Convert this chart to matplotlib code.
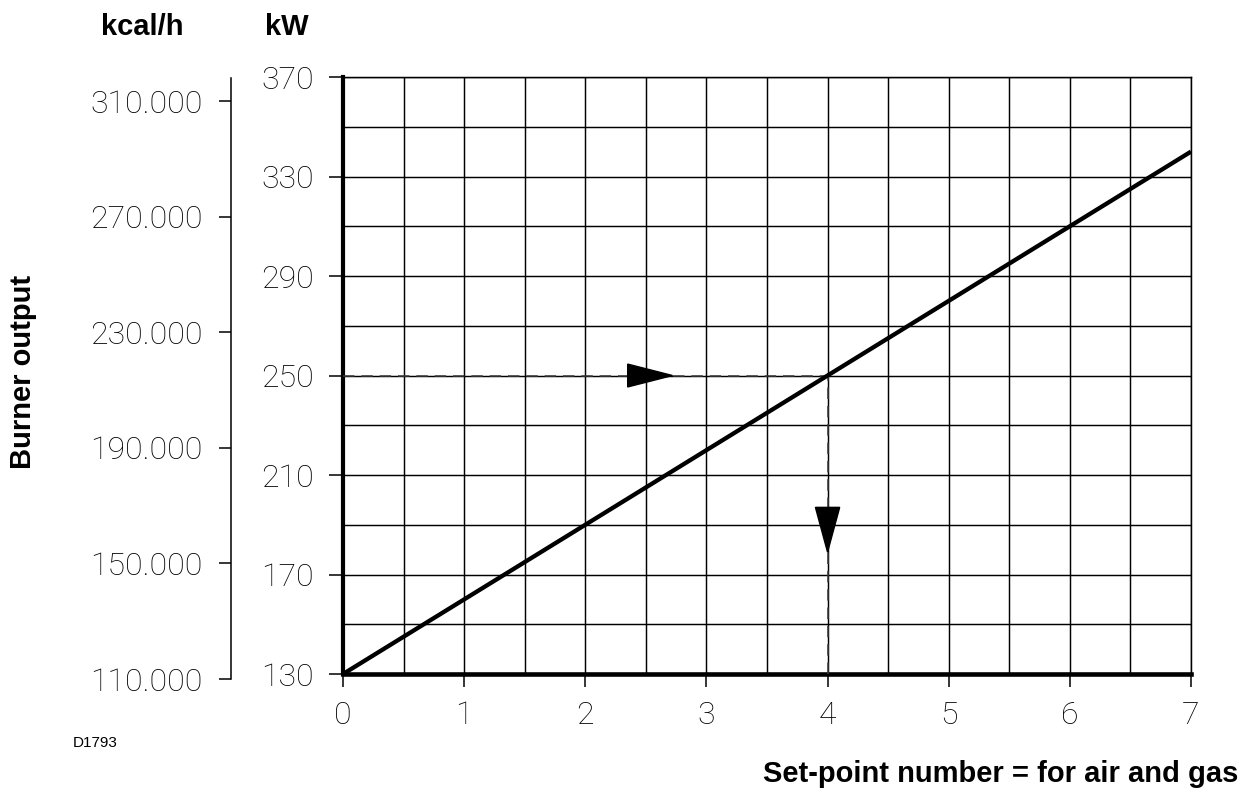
import numpy as np
import matplotlib
matplotlib.use('Agg')
import matplotlib.pyplot as plt
from matplotlib.patches import Polygon

##### data
setpoint = [0, 7]
output_kw = [130, 340]
kw_ticks = [130, 170, 210, 250, 290, 330, 370]
kcal_ticks = [110000, 150000, 190000, 230000, 270000, 310000]
kcal_labels = ['110.000', '150.000', '190.000', '230.000', '270.000', '310.000']
x_ticks = [0, 1, 2, 3, 4, 5, 6, 7]

# example reading: 250 kW -> set-point 4
ex_kw = 250
ex_sp = 4
# arrow heads (x0, x1, y) / (x, y0, y1)
arrow_right = [2.35, 2.72, 250]
arrow_down = [4, 197, 179]

tick_font = dict(family=['Roboto', 'DejaVu Sans'], weight='light', size=23)
bold_font = dict(family=['Liberation Sans', 'DejaVu Sans'], weight='bold', size=21)

fig = plt.figure(figsize=(12.51, 7.9), dpi=100)
ax = fig.add_axes([0.2742, 0.1468, 0.6778, 0.7557])

ax.set_xlim(0, 7)
ax.set_ylim(130, 370)
ax.set_xticks(x_ticks)
ax.set_xticklabels([str(v) for v in x_ticks], fontdict=tick_font)
ax.set_yticks(kw_ticks)
ax.set_yticklabels([str(v) for v in kw_ticks], fontdict=tick_font)
ax.set_xticks(np.arange(0, 7.01, 0.5), minor=True)
ax.set_yticks(np.arange(130, 370.1, 20), minor=True)
ax.tick_params(which='minor', length=0)
ax.tick_params(axis='y', which='major', length=10, width=1.1, pad=11, direction='out')
ax.tick_params(axis='x', which='major', length=9.4, width=1.1, pad=10, direction='out')
ax.grid(which='both', color='black', linewidth=1.05)
ax.set_axisbelow(True)

ax.spines['left'].set_linewidth(3)
ax.spines['bottom'].set_linewidth(3.3)
ax.spines['top'].set_linewidth(1.05)
ax.spines['right'].set_linewidth(1.05)

ax.plot(setpoint, output_kw, c='black', linewidth=3.1, solid_capstyle='butt', zorder=5)
ax.plot([0, ex_sp], [ex_kw, ex_kw], c='#3a3a3a', linewidth=1.1, dashes=(7.5, 4.5), zorder=4)
ax.plot([ex_sp, ex_sp], [130, ex_kw], c='#3a3a3a', linewidth=1.1, dashes=(7.5, 4.5), zorder=4)

dy = 4.6
ax.add_patch(Polygon([[arrow_right[0], arrow_right[2] - dy], [arrow_right[0], arrow_right[2] + dy],
                      [arrow_right[1], arrow_right[2]]], closed=True, fc='black', ec='black', zorder=6))
dx = 0.1
ax.add_patch(Polygon([[arrow_down[0] - dx, arrow_down[1]], [arrow_down[0] + dx, arrow_down[1]],
                      [arrow_down[0], arrow_down[2]]], closed=True, fc='black', ec='black', zorder=6))

##### kcal/h axis
ax2 = fig.add_axes([0.1847, 0.1405, 0.0001, 0.7608])
ax2.patch.set_visible(False)
for s in ['top', 'bottom', 'right']:
    ax2.spines[s].set_visible(False)
ax2.spines['left'].set_linewidth(1.1)
ax2.set_ylim(110000, 318000)
ax2.set_xticks([])
ax2.set_yticks(kcal_ticks)
ax2.set_yticklabels(kcal_labels, fontdict=tick_font)
ax2.tick_params(axis='y', length=8.6, width=1.1, pad=12, direction='out')

fig.text(0.1135, 0.9658, 'kcal/h', ha='center', va='center', **bold_font)
fig.text(0.2294, 0.9658, 'kW', ha='center', va='center', **bold_font)
fig.text(0.0184, 0.529, 'Burner output', ha='center', va='center', rotation=90, **bold_font)
fig.text(0.9896, 0.0205, 'Set-point number = for air and gas', ha='right', va='center', **bold_font)
fig.text(0.0584, 0.0595, 'D1793', ha='left', va='center', family=['Liberation Sans', 'DejaVu Sans'], size=11)

fig.savefig('out.png', dpi=100)
